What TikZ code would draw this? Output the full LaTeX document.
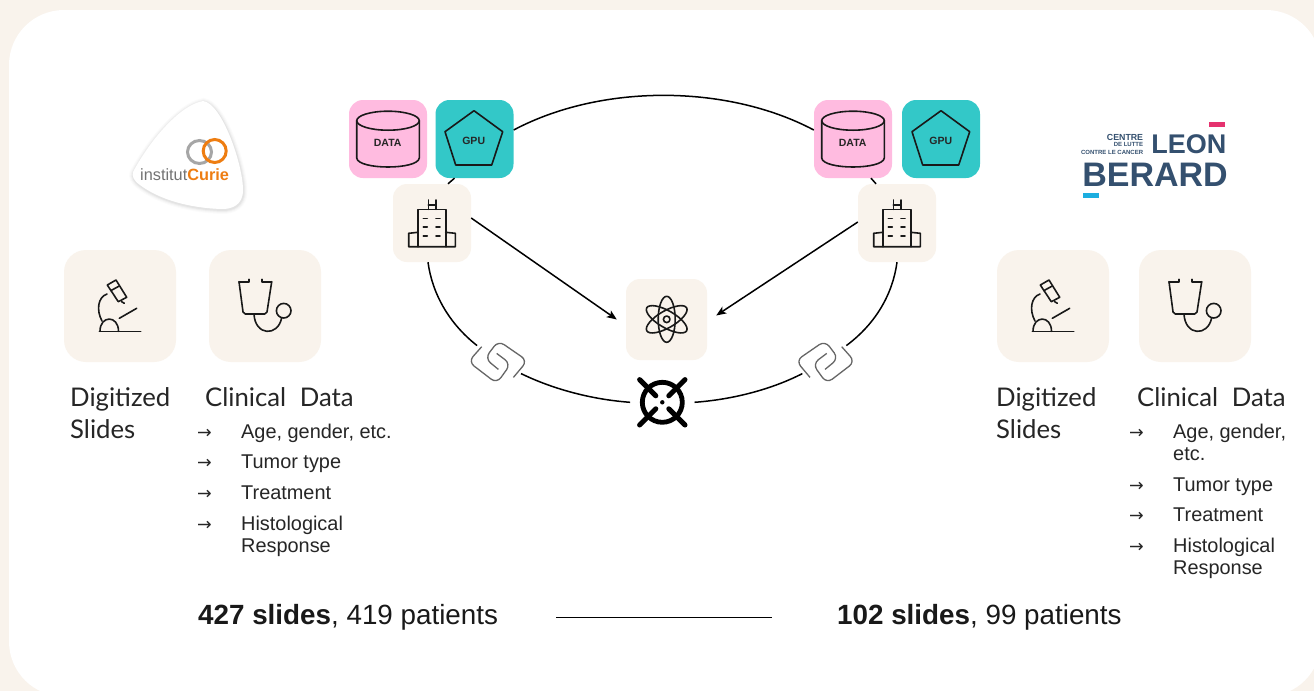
\documentclass[tikz,border=0pt]{standalone}
\usepackage{fontspec}
\setmainfont{Liberation Sans}
\newfontfamily\headfont{Lato}
\newfontfamily\arrowfont{DejaVu Sans}
\usetikzlibrary{arrows.meta}

\definecolor{paper}{HTML}{F9F3EC}
\definecolor{datapink}{HTML}{FFBBE0}
\definecolor{gputeal}{HTML}{33C8C8}
\definecolor{curieorange}{HTML}{EE7D11}
\definecolor{leonnavy}{HTML}{34506F}
\definecolor{leonpink}{HTML}{E5326F}
\definecolor{leonblue}{HTML}{1CAEE0}

\tikzset{
    tile/.style={draw=none,fill=paper,rounded corners=14pt,minimum size=78pt,inner sep=0pt},
    bigtile/.style={tile,rounded corners=22pt,minimum size=112pt},
    icon/.style={draw=black!90,line width=1.6pt,line join=round,line cap=round},
    chain/.style={draw=black!60,line width=1.3pt,rounded corners=7pt},
    ring/.style={draw=black,line width=1.5pt},
    head/.style={anchor=base west,inner sep=0pt,font=\headfont\fontsize{25.7}{30}\selectfont,text=black!85},
    item/.style={anchor=base west,inner sep=0pt,font=\fontsize{19.9}{24}\selectfont,text=black!85},
    bullet/.style={anchor=base west,inner sep=0pt,font=\arrowfont\fontsize{17.5}{20}\selectfont,text=black!85},
    total/.style={inner sep=0pt,text height=18pt,text depth=5pt,font=\fontsize{27.8}{30}\selectfont,text=black!90},
    tag/.style={inner sep=0pt,font=\bfseries\fontsize{10.5}{12}\selectfont,text=black!85},
    tiny/.style={anchor=base east,inner sep=0pt,font=\bfseries\fontsize{6}{8}\selectfont,text=leonnavy}
}

% Icons, drawn where the left copy sits
\newcommand{\microscope}[1]{
    \begin{scope}[shift={(#1,0)},icon]
        \draw (99.3,331.3) -- (140.7,331.3);
        \draw (100,331.3) .. controls (100,315) and (118.5,315) .. (118.5,331.3);
        \draw (102,321) .. controls (96,310) and (98,297) .. (107,294);
        \draw (107.3,285) -- (116,280) -- (126.7,297.3) -- (118.3,301.7) -- cycle;
        \draw (110.7,290.7) -- (119.3,286);
        \draw (121.7,301.7) -- (124.3,303.3);
        \draw (119.3,318.3) -- (136.7,308.3);
    \end{scope}
}
\newcommand{\stethoscope}[1]{
    \begin{scope}[shift={(#1,0)},icon]
        \draw (249,279.3) -- (249,281.7) -- (239,281.7);
        \draw (271.7,281.7) -- (261.7,281.7) -- (261.7,279.3);
        \draw[rounded corners=2pt] (239,281.7) -- (243.3,314) -- (266.7,314) -- (271.7,281.7);
        \draw (254,314) .. controls (255,336) and (278,337) .. (281.7,317.7);
        \draw (283.7,310.7) circle(7.3);
    \end{scope}
}
\newcommand{\hospital}[1]{
    \begin{scope}[shift={(#1,0)},icon]
        \draw (418,246.7) -- (418,209.3) -- (445.7,209.3) -- (445.7,246.7);
        \draw (418,232.3) -- (408.7,233.3) -- (408.7,246.7) -- (455.3,246.7) -- (455.3,233.3) -- (445.7,232.3);
        \draw (428.3,209.3) -- (428.3,200) (435.7,209.3) -- (435.7,200) (428.3,205) -- (435.7,205);
        \foreach \y in {218.3,226.7,235.7} {
            \draw (423.3,\y) -- (427.3,\y) (436,\y) -- (440,\y);
        }
    \end{scope}
}
\newcommand{\database}[1]{
    \begin{scope}[shift={(#1,0)},icon]
        \draw (388,120.7) circle[x radius=31.3,y radius=9.5];
        \draw (356.7,120.7) -- (356.7,158) .. controls (358,170) and (418,170) .. (419.3,158) -- (419.3,120.7);
    \end{scope}
}
\newcommand{\pentagon}[1]{
    \begin{scope}[shift={(#1,0)},icon]
        \draw (474,110.7) -- (502.7,131.7) -- (491.7,165) -- (455.7,165) -- (445,131.7) -- cycle;
    \end{scope}
}
\newcommand{\curieshape}{(133,172) .. controls (150,140) and (180,105) .. (203,101) .. controls (222,103) and (243,165) .. (243,190) .. controls (243,205) and (232,209) .. (222,209) .. controls (190,208) and (160,200) .. (140,185) .. controls (133,180) and (132,176) .. (133,172) -- cycle}

\begin{document}
\begin{tikzpicture}[x=1pt,y=-1pt]

        % Background
        \useasboundingbox (0,0) rectangle (1314,691);
        \fill[paper] (0,0) rectangle (1314,691);
        \fill[white,rounded corners=55pt] (9,10) rectangle (1321,696.5);

        % Tiles
        \node[tile,fill=datapink] (dataL) at (388,139) {};
        \node[tile,fill=gputeal] (gpuL) at (474.5,139) {};
        \node[tile] (hospL) at (432,223) {};
        \node[tile,fill=datapink] (dataR) at (853,139) {};
        \node[tile,fill=gputeal] (gpuR) at (941,139) {};
        \node[tile] (hospR) at (897,223) {};
        \node[tile,minimum size=81pt] (atom) at (666.5,319.5) {};
        \node[bigtile] (micL) at (120,306) {};
        \node[bigtile] (steL) at (265,306) {};
        \node[bigtile] (micR) at (1053,306) {};
        \node[bigtile] (steR) at (1195,306) {};

        % Ring: free nodes for the two links and the hub
        \node[circle,minimum size=52pt,inner sep=0pt] (linkL) at (497.7,361.7) {};
        \node[circle,minimum size=52pt,inner sep=0pt] (linkR) at (825.7,361.7) {};
        \node[circle,minimum size=64pt,inner sep=0pt] (hub) at (662.3,402.3) {};

        % Circuit
        \draw[ring] ([yshift=9pt]gpuL.east) .. controls (600.5,83.8) and (726.5,83.8) .. ([yshift=9pt]dataR.west);
        \draw[ring] ([xshift=16pt]hospL.north) -- ([xshift=-20pt]gpuL.south);
        \draw[ring] ([xshift=-21pt]hospR.north) -- ([xshift=18pt]dataR.south);
        \draw[ring] ([xshift=-4pt]hospL.south) .. controls (432.2,293.4) and (448.7,323.3) .. (linkL.142);
        \draw[ring] (hospR.south) .. controls (892.8,293.4) and (876.3,323.3) .. (linkR.38);
        \draw[ring] (linkL.-27) .. controls (552.5,388.9) and (591,399.4) .. (hub.west);
        \draw[ring] (linkR.207) .. controls (772.5,388.9) and (734,399.4) .. (hub.east);
        \draw[ring,-{Stealth[length=10pt,width=8pt,inset=2.5pt]}] ([yshift=5pt]hospL.east) -- ([xshift=-9pt]atom.west);
        \draw[ring,-{Stealth[length=10pt,width=8pt,inset=2.5pt]}] ([yshift=1pt]hospR.west) -- ([xshift=9pt,yshift=4pt]atom.east);

        % Icons
        \microscope{0}
        \microscope{933}
        \stethoscope{0}
        \stethoscope{930}
        \hospital{0}
        \hospital{465}
        \database{0}
        \database{465}
        \pentagon{0}
        \pentagon{467}
        \node[tag] (dataLtxt) at (387.7,143.3) {DATA};
        \node[tag] (gpuLtxt) at (473.7,141) {GPU};
        \node[tag] (dataRtxt) at (852.7,143.3) {DATA};
        \node[tag] (gpuRtxt) at (940.7,141) {GPU};

        % Atom
        \begin{scope}[shift={(666.7,319.3)},icon]
            \foreach \a in {90,30,-30} {
                \draw[rotate=\a] (0,0) circle[x radius=23,y radius=8.5];
            }
            \draw (0,0) circle(3.3);
        \end{scope}

        % Hub: crossed ring
        \draw[line width=4.8pt] (hub.center) circle(20);
        \fill (hub.center) circle(2.2);
        \foreach \sx/\sy in {-1/-1,1/-1,-1/1,1/1} {
            \draw[line width=5pt,line cap=round] ([shift={(6.5*\sx,6.5*\sy)}]hub.center) -- ([shift={(22.7*\sx,22.7*\sy)}]hub.center);
        }

        % Links
        \foreach \n/\s in {linkL/1,linkR/-1} {
            \begin{scope}[shift={(\n.center)},xscale=\s]
                \draw[chain] (0.7,7.7) -- (-12.7,-3.3) -- (0.7,-21) -- (29.7,-1) -- (15.7,15.7);
                \draw[chain] (-1,-8.3) -- (13,2.3) -- (-1,21.7) -- (-29.3,0) -- (-16,-15);
            \end{scope}
        }

        % Logo: Curie
        \foreach \w/\o in {8/.015,6/.02,4/.03,2/.04} {
            \draw[black,line width=\w pt,opacity=\o,shift={(0.5,1)}] \curieshape;
        }
        \fill[white] \curieshape;
        \draw[black!35,line width=3pt] (199.5,152) circle[x radius=12,y radius=11.5];
        \draw[curieorange,line width=3pt] (214.7,151) circle[x radius=11.5,y radius=11.5];
        \node[anchor=base west,inner sep=0pt,font=\fontsize{16.3}{18}\selectfont,text=black!55] (curie) at (140,180) {institut\textcolor{curieorange}{\bfseries Curie}};

        % Logo: Berard
        \fill[leonpink] (1209,121.7) rectangle (1225,126.7);
        \fill[leonblue] (1083.3,193.3) rectangle (1099.3,198.3);
        \node[tiny,font=\bfseries\fontsize{8.8}{10}\selectfont] (centre) at (1143.3,140) {CENTRE};
        \node[tiny] (lutte) at (1143.3,146.7) {DE LUTTE};
        \node[tiny] (cancer) at (1143.3,154) {CONTRE LE CANCER};
        \node[anchor=base east,inner sep=0pt,font=\bfseries\fontsize{27}{30}\selectfont,text=leonnavy] (leon) at (1226.5,153.3) {LEON};
        \node[anchor=base east,inner sep=0pt,font=\bfseries\fontsize{34}{36}\selectfont,text=leonnavy] (berard) at (1228,186.7) {BERARD};

        % Labels
        \node[head] (slideL) at (70,406) {Digitized};
        \node[head] (slideLb) at (70,438) {Slides};
        \node[head] (clinL) at (205,406) {Clinical\hspace{7pt} Data};
        \node[head] (slideR) at (996,406) {Digitized};
        \node[head] (slideRb) at (996,438) {Slides};
        \node[head] (clinR) at (1137,406) {Clinical\hspace{7pt} Data};

        \foreach \y/\txt in {438/{Age, gender, etc.},468/Tumor type,499/Treatment,530/Histological,552/Response} {
            \node[item] (itemL\y) at (241,\y) {\txt};
        }
        \foreach \y in {438,468,499,530} {
            \node[bullet] (arrL\y) at (197,\y) {→};
        }
        \foreach \y/\txt in {438/{Age, gender,},460/etc.,491/Tumor type,521/Treatment,552/Histological,574/Response} {
            \node[item] (itemR\y) at (1173,\y) {\txt};
        }
        \foreach \y in {438,491,521,552} {
            \node[bullet] (arrR\y) at (1129,\y) {→};
        }

        % Totals
        \node[total,anchor=west] (totalL) at (198,617.5) {\textbf{427 slides}, 419 patients};
        \node[total,anchor=west] (totalR) at (837,617.5) {\textbf{102 slides}, 99 patients};
        \draw[ring,shorten <=58pt,shorten >=65pt] (totalL.east) -- (totalR.west);

    \end{tikzpicture}
\end{document}
